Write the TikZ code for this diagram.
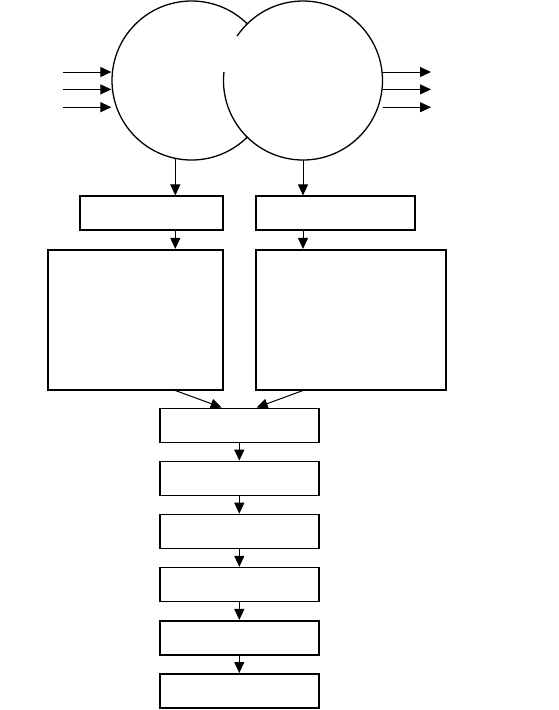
\documentclass[tikz,border=0pt]{standalone}
\usetikzlibrary{arrows.meta}
\begin{document}
\begin{tikzpicture}[x=1pt,y=-1pt,
  box/.style={draw, line width=1.6pt, rectangle, inner sep=0pt},
  arr/.style={-{Triangle[length=11pt,width=10pt]}, line width=1pt},
  ring/.style={circle, minimum size=159pt, inner sep=0pt}]
\useasboundingbox (0,0) rectangle (558,710);
% circles
\node[ring, draw, line width=1.3pt] (L) at (191.5,80.5) {};
\node[ring, fill=white] (R) at (303,80.5) {};
\draw[line width=1.3pt] (R.center) ++(-174:79.5) arc[start angle=-174, end angle=-506, radius=79.5];
% boxes
\node[box, minimum width=143pt, minimum height=34pt] (b1) at (151.3,213.2) {};
\node[box, minimum width=159pt, minimum height=34pt] (b2) at (335.3,213.2) {};
\node[box, minimum width=175pt, minimum height=140pt] (c1) at (135.3,319.7) {};
\node[box, minimum width=190pt, minimum height=140pt] (c2) at (351,319.7) {};
\foreach \i/\y in {1/425.3,2/478.4,3/531.5,4/584.6,5/637.7,6/690.8}
  \node[box, minimum width=159pt, minimum height=34pt] (d\i) at (239.3,\y) {};
% input / output arrows
\foreach \i/\y in {1/72,2/89.4,3/107.2}{
  \coordinate (i\i) at (63,\y);
  \coordinate (o\i) at (431,\y);
  \draw[arr] (i\i) -- (i\i -| L.west);
  \draw[arr] (o\i -| R.east) -- (o\i);
}
% vertical connectors
\coordinate (a1) at (175.3,0);
\draw[arr] (L.south -| a1) ++(0,-1.5) -- (b1.north -| a1);
\draw[arr] (R.south) -- (b2.north -| R.south);
\draw[arr] (b1.south -| a1) -- (c1.north -| a1);
\draw[arr] (b2.south -| R.south) -- (c2.north -| R.south);
\draw[arr] (c1.south -| a1) -- ([xshift=-17.6pt]d1.north);
\draw[arr] (c2.south -| R.south) -- ([xshift=17.4pt]d1.north);
\foreach \i [evaluate=\i as \j using int(\i+1)] in {1,...,5}
  \draw[arr] (d\i.south) -- (d\j.north);
\end{tikzpicture}
\end{document}
